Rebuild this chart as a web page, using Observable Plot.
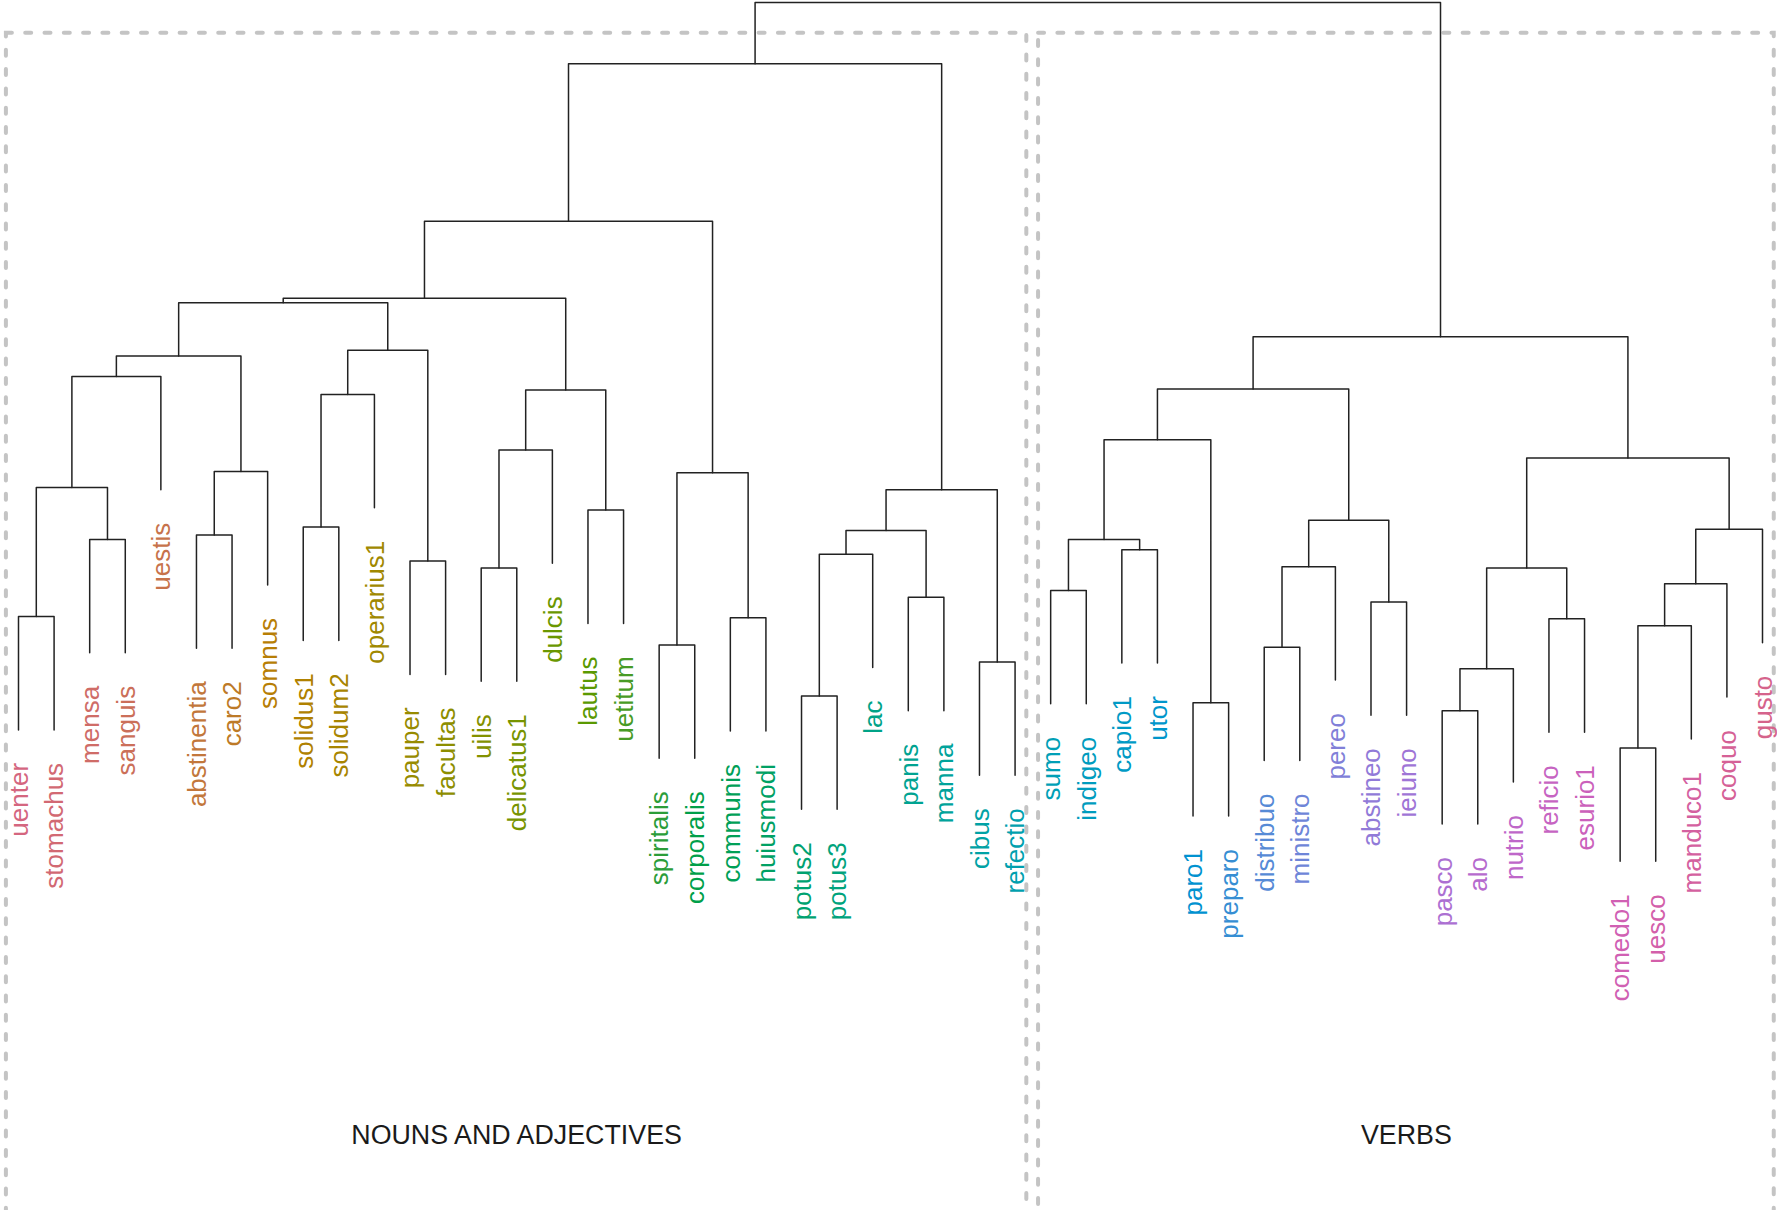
<!DOCTYPE html>
<html>
<head>
<meta charset="utf-8">
<script src="https://cdn.jsdelivr.net/npm/d3@7"></script>
<script src="https://cdn.jsdelivr.net/npm/@observablehq/plot@0.6"></script>
<style>
  html, body { margin: 0; padding: 0; background: #ffffff; overflow: hidden; }
  #chart svg { display: block; }
</style>
</head>
<body>
<div id="chart"></div>
<script>
// ---- Data: leaf labels in dendrogram order ----
const leaves = ["uenter","stomachus","mensa","sanguis","uestis","abstinentia","caro2","somnus",
  "solidus1","solidum2","operarius1","pauper","facultas","uilis","delicatus1","dulcis","lautus",
  "uetitum","spiritalis","corporalis","communis","huiusmodi","potus2","potus3","lac","panis",
  "manna","cibus","refectio","sumo","indigeo","capio1","utor","paro1","preparo","distribuo",
  "ministro","pereo","abstineo","ieiuno","pasco","alo","nutrio","reficio","esurio1","comedo1",
  "uesco","manduco1","coquo","gusto"];

// ---- Merge steps (child a, child b); "mK" refers to merge K ----
const merges = [
  ["uenter","stomachus"], ["mensa","sanguis"], ["m0","m1"], ["m2","uestis"],
  ["abstinentia","caro2"], ["m4","somnus"], ["m3","m5"], ["solidus1","solidum2"],
  ["m7","operarius1"], ["pauper","facultas"], ["m8","m9"], ["m6","m10"],
  ["uilis","delicatus1"], ["m12","dulcis"], ["lautus","uetitum"], ["m13","m14"],
  ["m11","m15"], ["spiritalis","corporalis"], ["communis","huiusmodi"], ["m17","m18"],
  ["m16","m19"], ["potus2","potus3"], ["m21","lac"], ["panis","manna"],
  ["m22","m23"], ["cibus","refectio"], ["m24","m25"], ["m20","m26"],
  ["sumo","indigeo"], ["capio1","utor"], ["m28","m29"], ["paro1","preparo"],
  ["m30","m31"], ["distribuo","ministro"], ["m33","pereo"], ["abstineo","ieiuno"],
  ["m34","m35"], ["m32","m36"], ["pasco","alo"], ["m38","nutrio"],
  ["reficio","esurio1"], ["m39","m40"], ["comedo1","uesco"], ["m42","manduco1"],
  ["m43","coquo"], ["m44","gusto"], ["m41","m45"], ["m37","m46"], ["m27","m47"]
];

// ---- Merge heights (same order as merges) ----
const heights = [
  0.458, 0.526, 0.572, 0.670,
  0.530, 0.586, 0.688, 0.537,
  0.654, 0.507, 0.693, 0.735,
  0.501, 0.605, 0.552, 0.658,
  0.739, 0.433, 0.457, 0.585,
  0.807, 0.388, 0.513, 0.475,
  0.534, 0.418, 0.570, 0.946,
  0.481, 0.517, 0.526, 0.382,
  0.614, 0.431, 0.502, 0.471,
  0.543, 0.659, 0.375, 0.412,
  0.456, 0.501, 0.342, 0.450,
  0.487, 0.535, 0.598, 0.705, 1.000
];

// ---- Cluster boxes (k = 2) ----
const clusterNames = ["NOUNS AND ADJECTIVES", "VERBS"];
const clusterSizes = [29, 21];

const hang = 0.1;

// ---- polarLUV (HCL) -> sRGB, as in colorspace::rainbow_hcl ----
function hclLuv(H, C, L) {
  const h = H * Math.PI / 180, u = C * Math.cos(h), v = C * Math.sin(h);
  const Xn = 95.047, Yn = 100, Zn = 108.883;
  const den = Xn + 15 * Yn + 3 * Zn, un = 4 * Xn / den, vn = 9 * Yn / den;
  const Y = L > 8 ? Yn * Math.pow((L + 16) / 116, 3) : Yn * L / 903.2963;
  const up = u / (13 * L) + un, vp = v / (13 * L) + vn;
  const X = Y * 9 * up / (4 * vp);
  const Z = Y * (12 - 3 * up - 20 * vp) / (4 * vp);
  const x = X / 100, y = Y / 100, z = Z / 100;
  const lin = [
    3.2404542 * x - 1.5371385 * y - 0.4985314 * z,
    -0.9692660 * x + 1.8760108 * y + 0.0415560 * z,
    0.0556434 * x - 0.2040259 * y + 1.0572252 * z
  ];
  const g = lin.map(c => {
    const s = c <= 0.0031308 ? 12.92 * c : 1.055 * Math.pow(c, 1 / 2.4) - 0.055;
    return Math.round(Math.max(0, Math.min(1, s)) * 255);
  });
  return d3.rgb(g[0], g[1], g[2]).formatHex();
}
const n = leaves.length;
const leafColor = new Map(leaves.map((l, i) => [l, hclLuv(i * 360 / n, 74, 57)]));

// ---- Build layout from the merge table ----
const pos = new Map(leaves.map((l, i) => [l, i]));
const hgt = new Map();
const parentH = new Map();
merges.forEach(([a, b], k) => {
  const id = "m" + k;
  pos.set(id, (pos.get(a) + pos.get(b)) / 2);
  hgt.set(id, heights[k]);
  parentH.set(a, heights[k]);
  parentH.set(b, heights[k]);
});
const nodeY = id => hgt.has(id) ? hgt.get(id) : parentH.get(id) - hang;

const segs = [];
merges.forEach(([a, b], k) => {
  const h = heights[k];
  segs.push({k, x: pos.get(a), y: nodeY(a)});
  segs.push({k, x: pos.get(a), y: h});
  segs.push({k, x: pos.get(b), y: h});
  segs.push({k, x: pos.get(b), y: nodeY(b)});
});

const labelData = leaves.map((l, i) => ({label: l, x: i, y: parentH.get(l) - hang, color: leafColor.get(l)}));

// cluster rectangles (rect.hclust style)
const sortedH = heights.slice().sort((a, b) => b - a);
const boxTop = (sortedH[0] + sortedH[1]) / 2;
let start = 0;
const boxes = clusterSizes.map((s, j) => {
  const b = {name: clusterNames[j], x1: start - 0.34, x2: start + s - 1 + 0.33, y1: -0.3, y2: boxTop};
  start += s;
  return b;
});

const chart = Plot.plot({
  width: 1777,
  height: 1210,
  margin: 0,
  style: {fontFamily: "'Liberation Sans', Arial, Helvetica, sans-serif", background: "#ffffff"},
  x: {domain: [0, n - 1], range: [18, 1762], axis: null},
  y: {domain: [-0.0662, 1.0018], range: [1210, 0], axis: null},
  marks: [
    Plot.rect(boxes, {x1: "x1", x2: "x2", y1: "y1", y2: "y2", fill: "none", stroke: "#c4c4c4",
      strokeWidth: 4, strokeDasharray: "6,13.3", strokeLinecap: "round", inset: 0}),
    Plot.text(boxes, {x: d => (d.x1 + d.x2) / 2, y: 0, text: "name", fontSize: 26.8, fill: "#1a1a1a", lineAnchor: "middle"}),
    Plot.line(segs, {x: "x", y: "y", z: "k", stroke: "#222222", strokeWidth: 1.5, curve: "linear"}),
    Plot.text(labelData, {x: "x", y: "y", text: "label", fill: "color", rotate: -90,
      textAnchor: "end", lineAnchor: "middle", fontSize: 26, dy: 33, dx: 1})
  ]
});
document.getElementById("chart").appendChild(chart);
</script>
</body>
</html>
